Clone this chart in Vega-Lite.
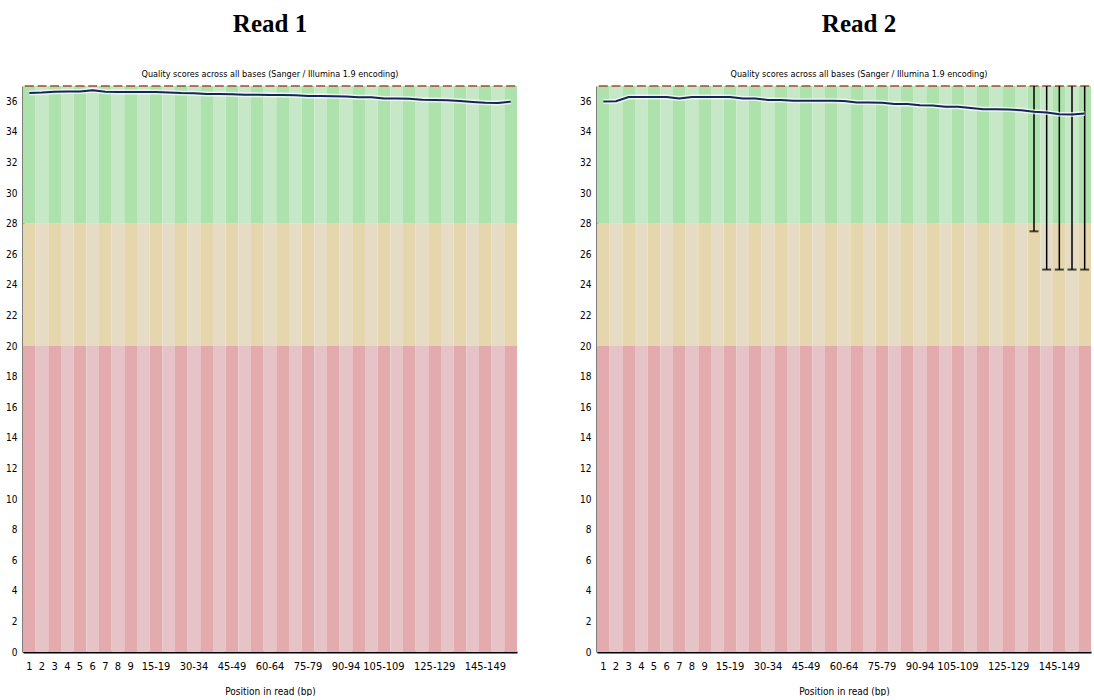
{
  "$schema": "https://vega.github.io/schema/vega-lite/v6.json",
  "background": "white",
  "padding": {"left": 5, "top": 12, "right": 0, "bottom": 0},
  "spacing": 58,
  "config": {
    "view": {"stroke": null},
    "axis": {
      "labelFont": "DejaVu Sans Condensed, Liberation Sans Narrow, sans-serif",
      "titleFont": "DejaVu Sans Condensed, Liberation Sans Narrow, sans-serif",
      "labelColor": "black",
      "titleColor": "black",
      "domainColor": "black",
      "domainWidth": 2,
      "ticks": false,
      "grid": false
    },
    "axisY": {"tickCount": 19, "labelOverlap": false, "labelFontSize": 10, "labelPadding": 6}
  },
  "datasets": {
    "r1": [
      {"i": 0, "pos": "1", "mean": 36.55, "median": 37},
      {"i": 1, "pos": "2", "mean": 36.57, "median": 37},
      {"i": 2, "pos": "3", "mean": 36.63, "median": 37},
      {"i": 3, "pos": "4", "mean": 36.64, "median": 37},
      {"i": 4, "pos": "5", "mean": 36.64, "median": 37},
      {"i": 5, "pos": "6", "mean": 36.72, "median": 37},
      {"i": 6, "pos": "7", "mean": 36.62, "median": 37},
      {"i": 7, "pos": "8", "mean": 36.61, "median": 37},
      {"i": 8, "pos": "9", "mean": 36.61, "median": 37},
      {"i": 9, "pos": "10-14", "mean": 36.6, "median": 37},
      {"i": 10, "pos": "15-19", "mean": 36.6, "median": 37},
      {"i": 11, "pos": "20-24", "mean": 36.58, "median": 37},
      {"i": 12, "pos": "25-29", "mean": 36.54, "median": 37},
      {"i": 13, "pos": "30-34", "mean": 36.53, "median": 37},
      {"i": 14, "pos": "35-39", "mean": 36.48, "median": 37},
      {"i": 15, "pos": "40-44", "mean": 36.47, "median": 37},
      {"i": 16, "pos": "45-49", "mean": 36.46, "median": 37},
      {"i": 17, "pos": "50-54", "mean": 36.42, "median": 37},
      {"i": 18, "pos": "55-59", "mean": 36.42, "median": 37},
      {"i": 19, "pos": "60-64", "mean": 36.41, "median": 37},
      {"i": 20, "pos": "65-69", "mean": 36.41, "median": 37},
      {"i": 21, "pos": "70-74", "mean": 36.4, "median": 37},
      {"i": 22, "pos": "75-79", "mean": 36.35, "median": 37},
      {"i": 23, "pos": "80-84", "mean": 36.34, "median": 37},
      {"i": 24, "pos": "85-89", "mean": 36.33, "median": 37},
      {"i": 25, "pos": "90-94", "mean": 36.32, "median": 37},
      {"i": 26, "pos": "95-99", "mean": 36.27, "median": 37},
      {"i": 27, "pos": "100-104", "mean": 36.26, "median": 37},
      {"i": 28, "pos": "105-109", "mean": 36.19, "median": 37},
      {"i": 29, "pos": "110-114", "mean": 36.18, "median": 37},
      {"i": 30, "pos": "115-119", "mean": 36.16, "median": 37},
      {"i": 31, "pos": "120-124", "mean": 36.1, "median": 37},
      {"i": 32, "pos": "125-129", "mean": 36.09, "median": 37},
      {"i": 33, "pos": "130-134", "mean": 36.07, "median": 37},
      {"i": 34, "pos": "135-139", "mean": 36.02, "median": 37},
      {"i": 35, "pos": "140-144", "mean": 35.96, "median": 37},
      {"i": 36, "pos": "145-149", "mean": 35.9, "median": 37},
      {"i": 37, "pos": "150-154", "mean": 35.89, "median": 37},
      {"i": 38, "pos": "155-159", "mean": 35.97, "median": 37}
    ],
    "r2": [
      {"i": 0, "pos": "1", "mean": 35.98, "median": 37},
      {"i": 1, "pos": "2", "mean": 36.0, "median": 37},
      {"i": 2, "pos": "3", "mean": 36.28, "median": 37},
      {"i": 3, "pos": "4", "mean": 36.28, "median": 37},
      {"i": 4, "pos": "5", "mean": 36.28, "median": 37},
      {"i": 5, "pos": "6", "mean": 36.28, "median": 37},
      {"i": 6, "pos": "7", "mean": 36.18, "median": 37},
      {"i": 7, "pos": "8", "mean": 36.28, "median": 37},
      {"i": 8, "pos": "9", "mean": 36.28, "median": 37},
      {"i": 9, "pos": "10-14", "mean": 36.28, "median": 37},
      {"i": 10, "pos": "15-19", "mean": 36.28, "median": 37},
      {"i": 11, "pos": "20-24", "mean": 36.18, "median": 37},
      {"i": 12, "pos": "25-29", "mean": 36.18, "median": 37},
      {"i": 13, "pos": "30-34", "mean": 36.09, "median": 37},
      {"i": 14, "pos": "35-39", "mean": 36.09, "median": 37},
      {"i": 15, "pos": "40-44", "mean": 36.03, "median": 37},
      {"i": 16, "pos": "45-49", "mean": 36.03, "median": 37},
      {"i": 17, "pos": "50-54", "mean": 36.03, "median": 37},
      {"i": 18, "pos": "55-59", "mean": 36.03, "median": 37},
      {"i": 19, "pos": "60-64", "mean": 36.02, "median": 37},
      {"i": 20, "pos": "65-69", "mean": 35.92, "median": 37},
      {"i": 21, "pos": "70-74", "mean": 35.92, "median": 37},
      {"i": 22, "pos": "75-79", "mean": 35.91, "median": 37},
      {"i": 23, "pos": "80-84", "mean": 35.83, "median": 37},
      {"i": 24, "pos": "85-89", "mean": 35.82, "median": 37},
      {"i": 25, "pos": "90-94", "mean": 35.74, "median": 37},
      {"i": 26, "pos": "95-99", "mean": 35.73, "median": 37},
      {"i": 27, "pos": "100-104", "mean": 35.65, "median": 37},
      {"i": 28, "pos": "105-109", "mean": 35.64, "median": 37},
      {"i": 29, "pos": "110-114", "mean": 35.56, "median": 37},
      {"i": 30, "pos": "115-119", "mean": 35.48, "median": 37},
      {"i": 31, "pos": "120-124", "mean": 35.48, "median": 37},
      {"i": 32, "pos": "125-129", "mean": 35.47, "median": 37},
      {"i": 33, "pos": "130-134", "mean": 35.41, "median": 37},
      {"i": 34, "pos": "135-139", "mean": 35.32, "median": 37, "low": 27.5, "high": 37},
      {"i": 35, "pos": "140-144", "mean": 35.26, "median": 37, "low": 25, "high": 37},
      {"i": 36, "pos": "145-149", "mean": 35.15, "median": 37, "low": 25, "high": 37},
      {"i": 37, "pos": "150-154", "mean": 35.13, "median": 37, "low": 25, "high": 37},
      {"i": 38, "pos": "155-159", "mean": 35.2, "median": 37, "low": 25, "high": 37}
    ]
  },
  "hconcat": [
    {
      "width": 494,
      "height": 566,
      "data": {"name": "r1"},
      "title": {
        "text": "Read 1",
        "subtitle": "Quality scores across all bases (Sanger / Illumina 1.9 encoding)",
        "font": "Liberation Serif",
        "fontSize": 25,
        "fontWeight": "bold",
        "color": "black",
        "subtitleFont": "DejaVu Sans Condensed, Liberation Sans Narrow, sans-serif",
        "subtitleFontSize": 9,
        "subtitleColor": "black",
        "subtitlePadding": 33,
        "offset": 1,
        "anchor": "middle"
      },
      "encoding": {
        "x": {
          "field": "pos",
          "type": "ordinal",
          "sort": {"field": "i", "op": "min"},
          "scale": {"paddingInner": 0, "paddingOuter": 0},
          "axis": {
            "title": "Position in read (bp)",
            "titleFontSize": 10,
            "titleFontWeight": "normal",
            "titlePadding": 15,
            "labelAngle": 0,
            "labelFontSize": 11,
            "labelPadding": 8,
            "labelOverlap": false,
            "labelExpr": "indexof(['1','2','3','4','5','6','7','8','9','15-19','30-34','45-49','60-64','75-79','90-94','105-109','125-129','145-149'], datum.label) >= 0 ? datum.label : ''"
          }
        }
      },
      "layer": [
        {
          "mark": {"type": "bar"},
          "encoding": {
            "y": {"datum": 28, "type": "quantitative", "scale": {"domain": [0, 37], "nice": false}, "axis": {"title": null}},
            "y2": {"datum": 37},
            "fill": {"condition": {"test": "datum.i % 2 == 0", "value": "#ade2ad"}, "value": "#c6e8c6"}
          }
        },
        {
          "mark": {"type": "bar"},
          "encoding": {
            "y": {"datum": 20, "type": "quantitative"},
            "y2": {"datum": 28},
            "fill": {"condition": {"test": "datum.i % 2 == 0", "value": "#e6d6ad"}, "value": "#e6dcc6"}
          }
        },
        {
          "mark": {"type": "bar"},
          "encoding": {
            "y": {"datum": 0, "type": "quantitative"},
            "y2": {"datum": 20},
            "fill": {"condition": {"test": "datum.i % 2 == 0", "value": "#e3abae"}, "value": "#e6c3c6"}
          }
        },
        {
          "mark": {"type": "tick", "size": 9, "thickness": 2, "color": "#a23a2a"},
          "encoding": {"y": {"field": "median", "type": "quantitative"}}
        },
        {
          "mark": {"type": "line", "color": "white", "strokeWidth": 5, "opacity": 0.7},
          "encoding": {"y": {"field": "mean", "type": "quantitative"}}
        },
        {
          "mark": {"type": "line", "color": "#14245c", "strokeWidth": 2},
          "encoding": {"y": {"field": "mean", "type": "quantitative"}}
        }
      ]
    },
    {
      "width": 494,
      "height": 566,
      "data": {"name": "r2"},
      "title": {
        "text": "Read 2",
        "subtitle": "Quality scores across all bases (Sanger / Illumina 1.9 encoding)",
        "font": "Liberation Serif",
        "fontSize": 25,
        "fontWeight": "bold",
        "color": "black",
        "subtitleFont": "DejaVu Sans Condensed, Liberation Sans Narrow, sans-serif",
        "subtitleFontSize": 9,
        "subtitleColor": "black",
        "subtitlePadding": 33,
        "offset": 1,
        "anchor": "middle",
        "dx": 15,
        "dy": -5
      },
      "encoding": {
        "x": {
          "field": "pos",
          "type": "ordinal",
          "sort": {"field": "i", "op": "min"},
          "scale": {"paddingInner": 0, "paddingOuter": 0},
          "axis": {
            "title": "Position in read (bp)",
            "titleFontSize": 10,
            "titleFontWeight": "normal",
            "titlePadding": 15,
            "labelAngle": 0,
            "labelFontSize": 11,
            "labelPadding": 8,
            "labelOverlap": false,
            "labelExpr": "indexof(['1','2','3','4','5','6','7','8','9','15-19','30-34','45-49','60-64','75-79','90-94','105-109','125-129','145-149'], datum.label) >= 0 ? datum.label : ''"
          }
        }
      },
      "layer": [
        {
          "mark": {"type": "bar"},
          "encoding": {
            "y": {"datum": 28, "type": "quantitative", "scale": {"domain": [0, 37], "nice": false}, "axis": {"title": null}},
            "y2": {"datum": 37},
            "fill": {"condition": {"test": "datum.i % 2 == 0", "value": "#ade2ad"}, "value": "#c6e8c6"}
          }
        },
        {
          "mark": {"type": "bar"},
          "encoding": {
            "y": {"datum": 20, "type": "quantitative"},
            "y2": {"datum": 28},
            "fill": {"condition": {"test": "datum.i % 2 == 0", "value": "#e6d6ad"}, "value": "#e6dcc6"}
          }
        },
        {
          "mark": {"type": "bar"},
          "encoding": {
            "y": {"datum": 0, "type": "quantitative"},
            "y2": {"datum": 20},
            "fill": {"condition": {"test": "datum.i % 2 == 0", "value": "#e3abae"}, "value": "#e6c3c6"}
          }
        },
        {
          "mark": {"type": "tick", "size": 9, "thickness": 2, "color": "#a23a2a"},
          "encoding": {"y": {"field": "median", "type": "quantitative"}}
        },
        {
          "transform": [{"filter": "isValid(datum.low)"}],
          "mark": {"type": "rule", "color": "black", "strokeWidth": 1.5},
          "encoding": {"y": {"field": "low", "type": "quantitative"}, "y2": {"field": "high"}}
        },
        {
          "transform": [{"filter": "isValid(datum.low)"}],
          "mark": {"type": "tick", "size": 9, "thickness": 2, "color": "black"},
          "encoding": {"y": {"field": "low", "type": "quantitative"}}
        },
        {
          "mark": {"type": "line", "color": "white", "strokeWidth": 5, "opacity": 0.7},
          "encoding": {"y": {"field": "mean", "type": "quantitative"}}
        },
        {
          "mark": {"type": "line", "color": "#14245c", "strokeWidth": 2},
          "encoding": {"y": {"field": "mean", "type": "quantitative"}}
        }
      ]
    }
  ]
}
